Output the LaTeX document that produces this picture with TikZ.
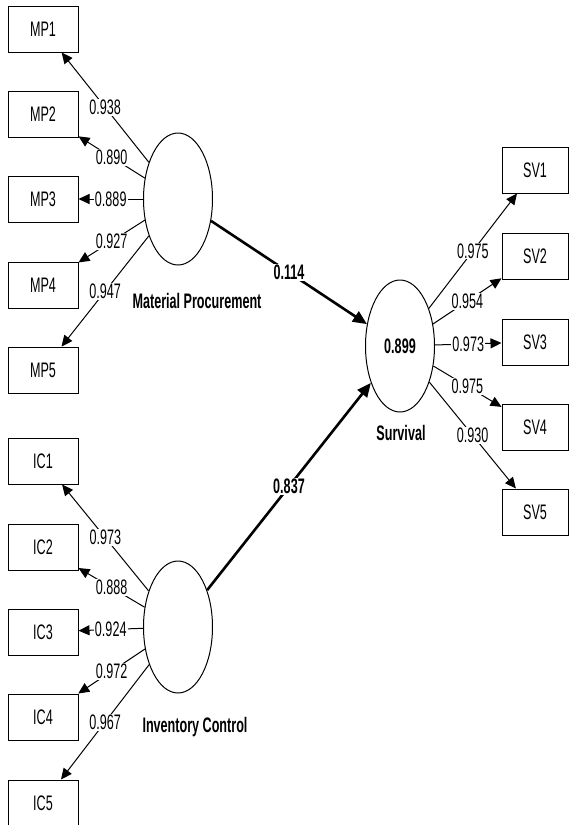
\documentclass[tikz,border=0pt]{standalone}
\usepackage{fontspec}
\setmainfont{Liberation Sans}[FakeStretch=0.6]
\usepackage{tikz}
\usetikzlibrary{shapes}
\usetikzlibrary{arrows.meta}
\usetikzlibrary{positioning}

\begin{document}
\begin{tikzpicture}[x = 1pt, y = -1pt,
		font = \fontsize{21}{24}\selectfont,
		indicator/.style = {draw, line width = 1pt, minimum width = 70pt, minimum height = 46pt, inner sep = 0pt},
		latent/.style = {draw, ellipse, line width = 1pt, minimum width = 69pt, minimum height = 132pt, inner sep = 0pt},
		loading/.style = {line width = 1pt, -{Triangle[length = 11pt, width = 10pt]}},
		pathcoef/.style = {line width = 2.6pt, -{Triangle[length = 14pt, width = 12pt]}},
		val/.style = {fill = white, inner sep = 1pt}]
	\useasboundingbox (0, 0) rectangle (569, 825);

	% Nodes
	\node[latent] (mp) at (178, 199) {};
	\node[latent] (ic) at (178, 627) {};
	\node[latent, font = \fontsize{21}{24}\selectfont\bfseries] (sv) at (400, 346) {0.899};

	\node[anchor = base, font = \fontsize{21}{24}\selectfont\bfseries] (mpname) at (197, 308) {Material Procurement};
	\node[anchor = base, font = \fontsize{21}{24}\selectfont\bfseries] (icname) at (195, 732) {Inventory Control};
	\node[anchor = base, font = \fontsize{21}{24}\selectfont\bfseries] (svname) at (401, 440) {Survival};

	\node[indicator] (mp1) at (43, 29) {MP1};
	\node[indicator] (mp2) at (43, 114) {MP2};
	\node[indicator] (mp3) at (43, 199) {MP3};
	\node[indicator] (mp4) at (43, 285) {MP4};
	\node[indicator] (mp5) at (43, 370) {MP5};

	\node[indicator] (ic1) at (43, 461) {IC1};
	\node[indicator] (ic2) at (43, 547) {IC2};
	\node[indicator] (ic3) at (43, 632) {IC3};
	\node[indicator] (ic4) at (43, 717) {IC4};
	\node[indicator] (ic5) at (43, 803) {IC5};

	\node[indicator, minimum width = 66pt] (sv1) at (535, 170) {SV1};
	\node[indicator, minimum width = 66pt] (sv2) at (535, 256) {SV2};
	\node[indicator, minimum width = 66pt] (sv3) at (535, 342) {SV3};
	\node[indicator, minimum width = 66pt] (sv4) at (535, 427) {SV4};
	\node[indicator, minimum width = 66pt] (sv5) at (535, 512) {SV5};

	% Edges
	\draw[loading] (mp) to node[val] {0.938} (mp1);
	\draw[loading] (mp) to node[val] {0.890} (mp2);
	\draw[loading] (mp) to node[val] {0.889} (mp3);
	\draw[loading] (mp) to node[val] {0.927} (mp4);
	\draw[loading] (mp) to node[val] {0.947} (mp5);

	\draw[loading] (ic) to node[val] {0.973} (ic1);
	\draw[loading] (ic) to node[val] {0.888} (ic2);
	\draw[loading] (ic) to node[val] {0.924} (ic3);
	\draw[loading] (ic) to node[val] {0.972} (ic4);
	\draw[loading] (ic) to node[val] {0.967} (ic5);

	\draw[loading] (sv) to node[val] {0.975} (sv1);
	\draw[loading] (sv) to node[val] {0.954} (sv2);
	\draw[loading] (sv) to node[val] {0.973} (sv3);
	\draw[loading] (sv) to node[val] {0.975} (sv4);
	\draw[loading] (sv) to node[val] {0.930} (sv5);

	\draw[pathcoef] (mp) to node[val, font = \fontsize{21}{24}\selectfont\bfseries] {0.114} (sv);
	\draw[pathcoef] (ic) to node[val, font = \fontsize{21}{24}\selectfont\bfseries] {0.837} (sv);
\end{tikzpicture}
\end{document}
